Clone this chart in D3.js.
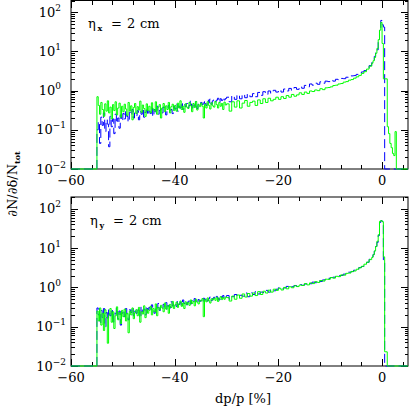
<!DOCTYPE html>
<meta charset="utf-8">
<style>
body { margin: 0; background: #fff; }
svg { font-family: "DejaVu Serif", serif; }
.frame { fill: none; stroke: #000; stroke-width: 1; }
.tick { stroke: #000; stroke-width: 1; shape-rendering: crispEdges; }
.blue { fill: none; stroke: #0000ff; stroke-width: 1; stroke-dasharray: 9,4; }
.green { fill: none; stroke: #00ff00; stroke-width: 1; }
</style>
<svg width="409" height="409"></svg>
<script src="https://d3js.org/d3.v7.min.js"></script>
<script>

// bin edges: 0.25 % bins in the noisy tail, 0.5 % bins up to -2 %, 0.25 % around the peak
var edges = d3.range(-55, -30, 0.25)
  .concat(d3.range(-30, -2, 0.5))
  .concat(d3.range(-2, 3.6, 0.25));

var xMajor = [-60, -40, -20, 0];
var xLabels = ["\u221260", "\u221240", "\u221220", "0"];
var yDecades = [-2, -1, 0, 1, 2];

// eta_x = 2 cm
var topBlue = [
  0.10, 0.16, 0.045, 0.21, 0.13, 0.27, 0.09, 0.18, 0.14, 0.037,
  0.22, 0.12, 0.19, 0.08, 0.25, 0.15, 0.20, 0.11, 0.24, 0.17,
  0.26, 0.19, 0.30, 0.22, 0.16, 0.28, 0.24, 0.33, 0.20, 0.27,
  0.23, 0.31, 0.18, 0.29, 0.25, 0.35, 0.21, 0.28, 0.32, 0.24,
  0.30, 0.26, 0.36, 0.22, 0.33, 0.28, 0.40, 0.25, 0.31, 0.34,
  0.27, 0.38, 0.30, 0.24, 0.35, 0.42, 0.29, 0.33, 0.26, 0.40,
  0.34, 0.45, 0.30, 0.40, 0.36, 0.50, 0.33, 0.44, 0.39, 0.47,
  0.37, 0.42, 0.55, 0.36, 0.48, 0.40, 0.52, 0.35, 0.46, 0.43,
  0.50, 0.44, 0.56, 0.47, 0.42, 0.58, 0.49, 0.61, 0.45, 0.55,
  0.60, 0.52, 0.57, 0.64, 0.50, 0.62, 0.56, 0.66, 0.58, 0.63,
  0.68, 0.52, 0.74, 0.60, 0.78, 0.62, 0.80, 0.66, 0.82, 0.70,
  0.84, 0.70, 0.90, 0.76, 0.94, 0.80, 0.98, 0.86, 1.02, 0.92,
  1.04, 0.92, 1.10, 0.98, 1.14, 1.02, 1.20, 1.08, 1.26, 1.15,
  1.36, 1.25, 1.48, 1.38, 1.55, 1.45, 1.68, 1.55, 1.75, 1.70,
  1.85, 1.75, 1.95, 1.90, 2.05, 2.02, 2.20, 2.18, 2.38, 2.42,
  2.60, 2.75, 3.00, 3.25, 3.75, 4.35,
  5.2, 6.0, 7.5, 9.5, 11, 18, 38, 62, 48, 42, 0, 0, 0, 0, 0, 0, 0, 0, 0, 0, 0, 0
];
var topGreen = [
  0.70, 0.42, 0.25, 0.50, 0.33, 0.22, 0.46, 0.30, 0.55, 0.27,
  0.38, 0.19, 0.44, 0.31, 0.52, 0.24, 0.36, 0.48, 0.21, 0.40,
  0.29, 0.45, 0.34, 0.23, 0.50, 0.30, 0.41, 0.18, 0.37, 0.47,
  0.26, 0.39, 0.32, 0.54, 0.28, 0.43, 0.35, 0.22, 0.46, 0.31,
  0.40, 0.27, 0.49, 0.34, 0.30, 0.52, 0.25, 0.38, 0.44, 0.20,
  0.36, 0.47, 0.29, 0.41, 0.33, 0.50, 0.27, 0.39, 0.45, 0.31,
  0.42, 0.30, 0.48, 0.36, 0.55, 0.33, 0.40, 0.28, 0.46, 0.38,
  0.35, 0.50, 0.41, 0.29, 0.47, 0.37, 0.53, 0.32, 0.44, 0.39,
  0.48, 0.40, 0.20, 0.45, 0.36, 0.52, 0.42, 0.34, 0.49, 0.41,
  0.38, 0.53, 0.44, 0.36, 0.50, 0.40, 0.47, 0.33, 0.51, 0.43,
  0.46, 0.30, 0.52, 0.38, 0.55, 0.36, 0.48, 0.56, 0.40, 0.50,
  0.54, 0.42, 0.58, 0.47, 0.62, 0.50, 0.64, 0.55, 0.60, 0.68,
  0.60, 0.70, 0.63, 0.75, 0.68, 0.80, 0.72, 0.78, 0.88, 0.80,
  0.92, 0.85, 0.98, 0.95, 1.04, 1.00, 1.12, 1.06, 1.18, 1.20,
  1.25, 1.35, 1.38, 1.48, 1.52, 1.65, 1.70, 1.85, 1.92, 2.08,
  2.25, 2.45, 2.75, 3.05, 3.55, 4.20,
  5.0, 5.8, 7.0, 9.0, 12, 20, 35, 55, 16, 2.0, 2.0, 2.0, 0.12, 0.08, 0.045, 0.035, 0.025, 0.022, 0.09, 0, 0, 0
];

// eta_y = 2 cm
var bottomBlue = [
  0.30, 0.20, 0.12, 0.26, 0.17, 0.29, 0.10, 0.23, 0.15, 0.27,
  0.19, 0.28, 0.13, 0.24, 0.21, 0.30, 0.16, 0.25, 0.11, 0.22,
  0.26, 0.18, 0.29, 0.21, 0.15, 0.27, 0.23, 0.31, 0.19, 0.25,
  0.22, 0.30, 0.26, 0.17, 0.32, 0.24, 0.28, 0.20, 0.33, 0.27,
  0.31, 0.25, 0.36, 0.28, 0.22, 0.34, 0.30, 0.39, 0.26, 0.33,
  0.29, 0.37, 0.32, 0.41, 0.27, 0.35, 0.30, 0.43, 0.34, 0.38,
  0.40, 0.33, 0.45, 0.37, 0.42, 0.35, 0.48, 0.39, 0.44, 0.36,
  0.43, 0.50, 0.38, 0.46, 0.41, 0.52, 0.45, 0.40, 0.49, 0.44,
  0.47, 0.42, 0.53, 0.48, 0.55, 0.45, 0.51, 0.57, 0.46, 0.52,
  0.56, 0.50, 0.59, 0.54, 0.48, 0.60, 0.55, 0.62, 0.52, 0.58,
  0.62, 0.50, 0.58, 0.66, 0.55, 0.63, 0.60, 0.72, 0.58, 0.73,
  0.66, 0.78, 0.68, 0.76, 0.74, 0.84, 0.76, 0.88, 0.82, 0.90,
  0.98, 0.92, 0.97, 1.06, 1.00, 1.04, 1.12, 1.06, 1.18, 1.13,
  1.22, 1.28, 1.24, 1.36, 1.32, 1.46, 1.42, 1.55, 1.58, 1.70,
  1.78, 1.82, 1.86, 1.98, 2.02, 2.18, 2.22, 2.44, 2.52, 2.74,
  2.86, 3.20, 3.40, 3.95, 4.35, 5.20,
  5.9, 6.9, 8.4, 11, 14, 21, 45, 50, 48, 5.0, 0, 0, 0, 0, 0, 0, 0, 0, 0, 0, 0, 0
];
var bottomGreen = [
  0.25, 0.14, 0.30, 0.11, 0.22, 0.08, 0.27, 0.17, 0.038, 0.20,
  0.29, 0.13, 0.24, 0.09, 0.19, 0.32, 0.15, 0.23, 0.12, 0.26,
  0.18, 0.28, 0.14, 0.22, 0.07, 0.25, 0.20, 0.30, 0.16, 0.23,
  0.27, 0.19, 0.31, 0.13, 0.24, 0.21, 0.34, 0.17, 0.28, 0.22,
  0.26, 0.33, 0.20, 0.29, 0.24, 0.38, 0.19, 0.31, 0.27, 0.35,
  0.30, 0.24, 0.40, 0.28, 0.34, 0.22, 0.37, 0.31, 0.44, 0.29,
  0.36, 0.42, 0.31, 0.38, 0.45, 0.33, 0.40, 0.29, 0.43, 0.37,
  0.41, 0.35, 0.48, 0.39, 0.44, 0.34, 0.50, 0.42, 0.38, 0.47,
  0.45, 0.52, 0.18, 0.49, 0.43, 0.54, 0.46, 0.40, 0.51, 0.48,
  0.53, 0.47, 0.56, 0.44, 0.52, 0.58, 0.49, 0.55, 0.50, 0.57,
  0.55, 0.45, 0.60, 0.50, 0.64, 0.53, 0.68, 0.57, 0.70, 0.60,
  0.72, 0.62, 0.78, 0.66, 0.80, 0.72, 0.85, 0.76, 0.90, 0.84,
  0.95, 0.86, 1.00, 0.92, 1.04, 0.98, 1.10, 1.05, 1.15, 1.12,
  1.25, 1.16, 1.30, 1.25, 1.40, 1.34, 1.50, 1.45, 1.62, 1.60,
  1.78, 1.72, 1.92, 1.88, 2.08, 2.05, 2.28, 2.32, 2.55, 2.62,
  2.90, 3.15, 3.45, 3.90, 4.40, 5.10,
  5.8, 6.8, 8.5, 11, 15, 22, 48, 50, 47, 6.0, 0.023, 0.023, 0, 0, 0, 0, 0, 0, 0, 0, 0, 0
];

var svg = d3.select("svg");

var x = d3.scaleLinear().domain([-60, 5]).range([71, 408]);

var panels = [
  { top: 0.5, bottom: 169, name: "x", blue: topBlue, green: topGreen, textY: 28, textX: 88 },
  { top: 197, bottom: 366, name: "y", blue: bottomBlue, green: bottomGreen, textY: 225, textX: 90 }
];

var floorVal = 0.01;

function stepPoints(vals) {
  var pts = [[-60, floorVal]];
  vals.forEach(function(v, i) { pts.push([edges[i], Math.max(v, floorVal)]); });
  pts.push([edges[vals.length], floorVal]);
  pts.push([5, floorVal]);
  return pts;
}

panels.forEach(function(p) {
  var y = d3.scaleLog().domain([0.01, 200]).range([p.bottom, p.top]);
  var g = svg.append("g");

  g.append("rect").attr("class", "frame")
    .attr("x", x(-60)).attr("y", p.top)
    .attr("width", x(5) - x(-60)).attr("height", p.bottom - p.top);

  // x ticks, bottom and top
  d3.range(-60, 5, 4).forEach(function(t) {
    var len = xMajor.indexOf(t) >= 0 ? 7 : 4;
    var xx = Math.round(x(t)) + 0.5;
    g.append("line").attr("class", "tick").attr("x1", xx).attr("x2", xx)
      .attr("y1", p.bottom).attr("y2", p.bottom - len);
    g.append("line").attr("class", "tick").attr("x1", xx).attr("x2", xx)
      .attr("y1", p.top).attr("y2", p.top + len);
  });

  // y ticks, left and right
  var yt = [];
  yDecades.forEach(function(d) {
    d3.range(1, 10).forEach(function(k) {
      var v = k * Math.pow(10, d);
      if (v <= 200.001) yt.push({ v: v, major: k === 1 });
    });
  });
  yt.forEach(function(t) {
    var len = t.major ? 7 : 3.5;
    var yy = Math.round(y(t.v)) + 0.5;
    g.append("line").attr("class", "tick").attr("x1", x(-60)).attr("x2", x(-60) + len)
      .attr("y1", yy).attr("y2", yy);
    g.append("line").attr("class", "tick").attr("x1", x(5)).attr("x2", x(5) - len)
      .attr("y1", yy).attr("y2", yy);
  });

  // tick labels
  xMajor.forEach(function(t, i) {
    g.append("text").attr("x", x(t)).attr("y", p.bottom + 16)
      .attr("text-anchor", "middle").attr("font-size", 13)
      .text(xLabels[i]);
  });
  yDecades.forEach(function(d) {
    var tx = g.append("text").attr("x", d < 0 ? 66 : 61).attr("y", y(Math.pow(10, d)) + 4.5)
      .attr("text-anchor", "end").attr("font-size", 13);
    tx.append("tspan").text("10");
    tx.append("tspan").attr("dy", -6).attr("font-size", 9)
      .text(d < 0 ? "\u2212" + (-d) : String(d));
  });

  // data
  var line = d3.line()
    .x(function(d) { return x(d[0]); })
    .y(function(d) { return y(d[1]); })
    .curve(d3.curveStepAfter);

  g.append("path").attr("class", "blue").attr("d", line(stepPoints(p.blue)));
  g.append("path").attr("class", "green").attr("d", line(stepPoints(p.green)));

  // annotation
  var ann = g.append("text").attr("y", p.textY).attr("font-size", 13);
  ann.append("tspan").attr("x", p.textX).text("\u03b7");
  ann.append("tspan").attr("x", p.textX + 9.5).attr("dy", 3).attr("font-size", 8)
    .attr("font-weight", "bold").text(p.name);
  ann.append("tspan").attr("x", p.textX + 23).attr("dy", -3).text("=");
  ann.append("tspan").attr("x", p.textX + 39).text("2");
  ann.append("tspan").attr("x", p.textX + 52).text("cm");
});

// axis titles
var yl = svg.append("text")
  .attr("transform", "translate(17,184) rotate(-90)")
  .attr("text-anchor", "middle").attr("font-size", 13);
yl.append("tspan").text("\u2202N/\u2202\u03b4/N");
yl.append("tspan").attr("dy", 3).attr("font-size", 8).attr("font-weight", "bold").text("tot");

svg.append("text").attr("x", 243).attr("y", 403)
  .attr("text-anchor", "middle").attr("font-size", 13)
  .text("dp/p [%]");

</script>
